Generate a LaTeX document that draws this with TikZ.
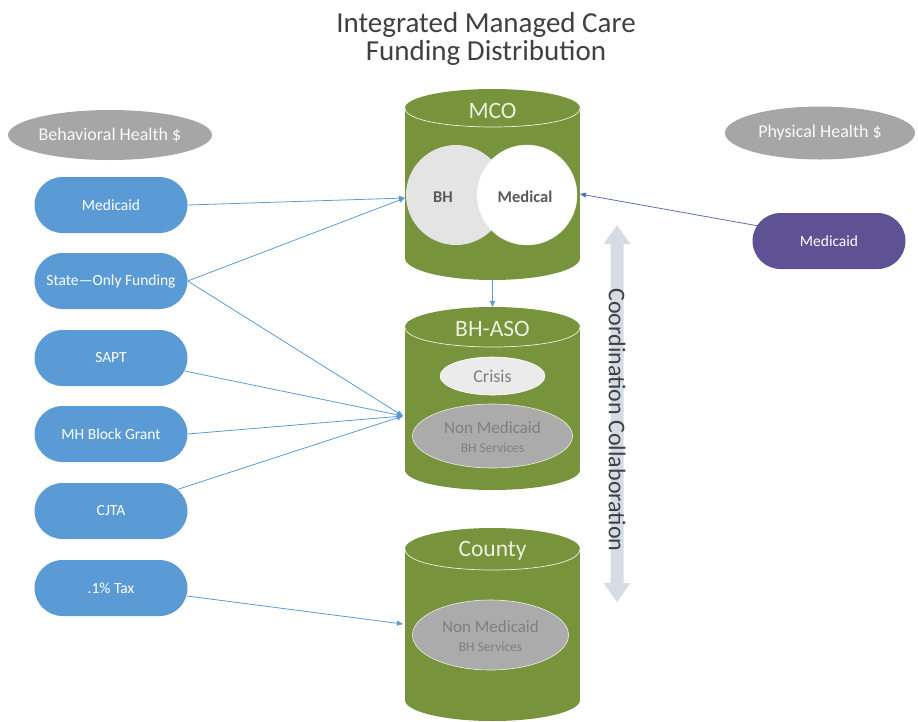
\documentclass[tikz,border=0pt]{standalone}
\usepackage{fontspec}
\setmainfont{Carlito}
\usetikzlibrary{arrows.meta,shapes.misc,shapes.geometric}

\definecolor{drumgreen}{HTML}{77933C}
\definecolor{rimgreen}{HTML}{EBF1DE}
\definecolor{fundblue}{HTML}{5B9BD5}
\definecolor{fundpurple}{HTML}{5E5294}
\definecolor{ovalgray}{HTML}{A6A6A6}
\definecolor{bhgray}{HTML}{E4E4E4}
\definecolor{crisisgray}{HTML}{EBEBEB}
\definecolor{nmgray}{HTML}{ABABAB}
\definecolor{labelgray}{HTML}{7F7F7F}
\definecolor{darklabel}{HTML}{595959}
\definecolor{titlegray}{HTML}{404040}
\definecolor{coordgray}{HTML}{D6DCE4}
\definecolor{flowblue}{HTML}{5B9BD5}
\definecolor{flowpurple}{HTML}{5A6FAE}

% a green storage drum: left, right, top-face centre y, top radius, bottom-face centre y, bottom radius
\newcommand{\drum}[6]{%
  \fill[drumgreen] (#1,#3) rectangle (#2,#5);
  \fill[drumgreen] ({(#1+#2)/2},#3) ellipse [x radius={(#2-#1)/2}, y radius=#4];
  \fill[drumgreen] ({(#1+#2)/2},#5) ellipse [x radius={(#2-#1)/2}, y radius=#6];
  \draw[rimgreen, line width=0.7pt] (#1,#3) .. controls (#1,{#3+1.333*#4}) and (#2,{#3+1.333*#4}) .. (#2,#3);
}

\tikzset{
  fundbox/.style={rounded rectangle, fill=fundblue, minimum width=153, minimum height=56,
    inner sep=0, text=white, font=\fontsize{15.5}{17}\selectfont},
  srcoval/.style={ellipse, fill=ovalgray, inner sep=0, text=white!95!gray,
    font=\fontsize{18}{20}\selectfont},
  drumtitle/.style={text=rimgreen, font=\fontsize{23.5}{26}\selectfont},
  flow/.style={flowblue, line width=0.8pt, -{Triangle[length=6pt,width=5pt]}},
  nmoval/.style={ellipse, fill=nmgray, draw=rimgreen, line width=0.6pt, inner sep=0},
  nmtext/.style={text=labelgray, inner sep=0},
}

\begin{document}
\begin{tikzpicture}[x=1pt, y=-1pt]
\useasboundingbox (0,0) rectangle (918,721);

% title
\node[anchor=base, text=titlegray, font=\fontsize{29}{31}\selectfont] (title1) at (486,32) {Integrated Managed Care};
\node[anchor=base, text=titlegray, font=\fontsize{29}{31}\selectfont] (title2) at (486,60) {Funding Distribution};

% source ovals
\node[srcoval, minimum width=204, minimum height=50] (bhsrc) at (110,135) {Behavioral Health \$};
\node[srcoval, minimum width=190, minimum height=53] (phsrc) at (820,133) {Physical Health \$};

% funding sources
\node[fundbox] (bmed)   at (111,205) {Medicaid};
\node[fundbox] (bstate) at (111,281) {State---Only Funding};
\node[fundbox] (bsapt)  at (111,358) {SAPT};
\node[fundbox] (bmh)    at (111,434) {MH Block Grant};
\node[fundbox] (bcjta)  at (111,511) {CJTA};
\node[fundbox] (btax)   at (111,588) {.1\% Tax};
\node[fundbox, fill=fundpurple] (pmed) at (829,241) {Medicaid};

% MCO drum
\drum{405}{580}{108}{19}{258}{22}
\node[drumtitle] (mco) at (492.5,111) {MCO};
\node[circle, fill=bhgray, minimum size=100, inner sep=0] (bh) at (456,195) {};
\node[circle, fill=white, draw=white!90!gray, line width=0.4pt, minimum size=100, inner sep=0] (medical) at (527,195) {};
\node[text=darklabel, font=\bfseries\fontsize{16.5}{18}\selectfont] (bhlbl) at (443,197) {BH};
\node[text=darklabel, font=\bfseries\fontsize{16.5}{18}\selectfont] (medlbl) at (525,197) {Medical};

% BH-ASO drum
\drum{405}{580}{327}{20}{470}{20}
\node[drumtitle] (aso) at (492.5,329) {BH-ASO};
\node[ellipse, fill=crisisgray, draw=white, line width=0.6pt, minimum width=105, minimum height=38,
  inner sep=0, text=labelgray, font=\fontsize{18}{20}\selectfont] (crisis) at (492.5,376) {Crisis};
\node[nmoval, minimum width=160, minimum height=64] (asonm) at (492.5,436) {};
\node[nmtext, font=\fontsize{17}{18}\selectfont] (asonm1) at (492.5,428) {Non Medicaid};
\node[nmtext, font=\fontsize{13.5}{15}\selectfont] (asonm2) at (492.5,448) {BH Services};

% County drum
\drum{405}{580}{549}{21}{700}{21}
\node[drumtitle] (county) at (492.5,551) {County};
\node[nmoval, minimum width=156, minimum height=70] (cntnm) at (490.5,635) {};
\node[nmtext, font=\fontsize{17}{18}\selectfont] (cntnm1) at (490.5,627) {Non Medicaid};
\node[nmtext, font=\fontsize{13.5}{15}\selectfont] (cntnm2) at (490.5,647) {BH Services};

% entry points on the drums
\coordinate (mcoIn) at (405,198);
\coordinate (medIn) at (580,194);
\coordinate (mcoBot) at (492.5,280);
\coordinate (asoTop) at (492.5,307);
\coordinate (asoIn) at (403,416);
\coordinate (cntIn) at (403,624);

% funding flows
\draw[flow] (bmed.east) -- (mcoIn);
\draw[flow] (bstate.east) -- (mcoIn);
\draw[flow] (bstate.east) -- (asoIn);
\draw[flow] (bsapt.-10) -- (asoIn);
\draw[flow] (bmh.east) -- (asoIn);
\draw[flow] (bcjta.18) -- (asoIn);
\draw[flow] (btax.-6) -- (cntIn);
\draw[flow, flowpurple] (pmed.168) -- (medIn);
\draw[flow] (mcoBot) -- (asoTop);

% coordination / collaboration double arrow
\fill[coordgray] (617,225) -- (630.5,244) -- (623.5,244) -- (623.5,583) -- (630.5,583)
  -- (617,602) -- (603.5,583) -- (610.5,583) -- (610.5,244) -- (603.5,244) -- cycle;
\node[rotate=-90, text=titlegray, font=\fontsize{24}{26}\selectfont] (coord) at (617,420)
  {Coordination Collaboration};

\end{tikzpicture}
\end{document}
